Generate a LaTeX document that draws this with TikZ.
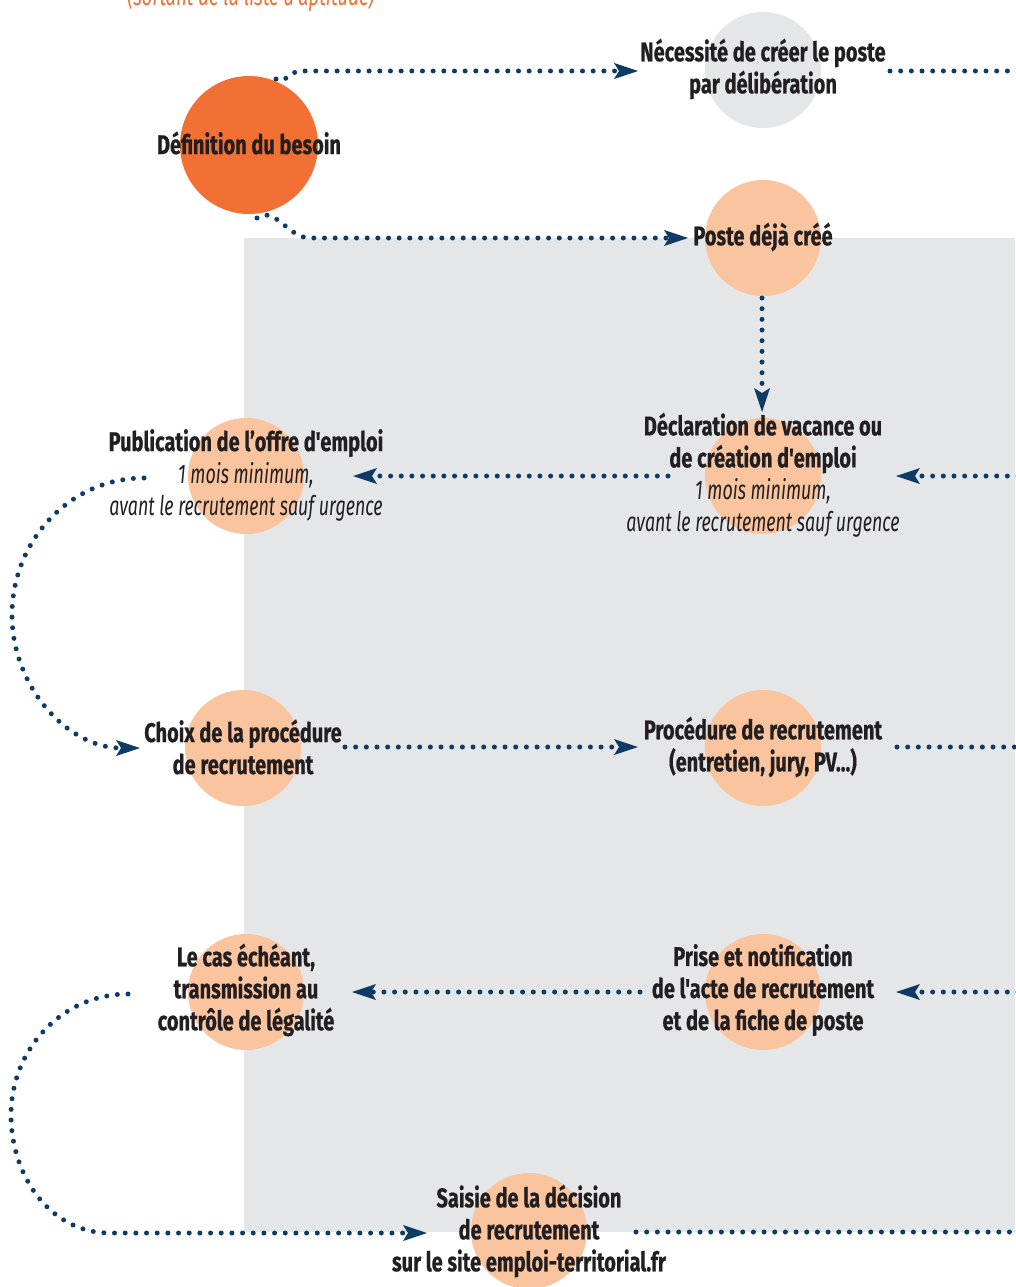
\documentclass[tikz,border=0pt]{standalone}
\usepackage{fontspec}
\defaultfontfeatures{}
\setmainfont{Fira Sans}
\newfontfamily\labfont{Fira Sans}[FakeStretch=0.74,BoldFeatures={FakeBold=0.6}]
\newfontfamily\itfont{Fira Sans}[FakeStretch=0.66]
\usetikzlibrary{arrows.meta}
\definecolor{navy}{HTML}{0D3B66}
\definecolor{txt}{HTML}{231F20}
\definecolor{orangeA}{HTML}{F37034}
\definecolor{peach}{HTML}{F9C49E}
\definecolor{lgray}{HTML}{E5E6E8}
\newcommand{\itl}[1]{{\itfont\mdseries\itshape #1}}
\begin{document}
\begin{tikzpicture}[x=1pt,y=-1pt,
  circ/.style={circle,inner sep=0pt,minimum size=116pt},
  lbl/.style={font=\labfont\bfseries\fontsize{27}{32}\selectfont,text=txt,align=center,inner sep=0pt},
  dots/.style={navy,line width=5pt,line cap=round,dash pattern=on 0pt off 10.67pt},
  arr/.style={dots,-{Stealth[length=24pt,width=16pt,inset=5pt,line width=0pt]}}
]
\useasboundingbox (0,0) rectangle (1015,1287);
\fill[white] (0,0) rectangle (1015,1287);
% grey panel
\fill[lgray] (244,238) rectangle (1015,1232);
% top cut text
\node[anchor=base,inner sep=0pt,text=orangeA,font=\itfont\itshape\fontsize{28}{32}\selectfont] (topnote) at (251,6) {(sortant de la liste d'aptitude)};
% circles
\node[circ,fill=orangeA,minimum size=138pt] (cDef) at (249,145) {};
\node[circ,fill=lgray] (cNec) at (763,70) {};
\node[circ,fill=peach] (cPos) at (763,238) {};
\node[circ,fill=peach] (cDec) at (763,476) {};
\node[circ,fill=peach] (cPub) at (246,476) {};
\node[circ,fill=peach] (cCho) at (243,748) {};
\node[circ,fill=peach] (cPro) at (763,748) {};
\node[circ,fill=peach] (cCas) at (246,992) {};
\node[circ,fill=peach] (cPri) at (763,992) {};
\node[circ,fill=peach] (cSai) at (529,1231) {};
% labels
\node[lbl] (tDef) at (249,143) {Définition du besoin};
\node[lbl] (tNec) at (763,69) {Nécessité de créer le poste\\par délibération};
\node[lbl] (tPos) at (763,237) {Poste déjà créé};
\node[lbl] (tDec) at (763,475) {Déclaration de vacance ou\\de création d'emploi\\\itl{1 mois minimum,}\\\itl{avant le recrutement sauf urgence}};
\node[lbl] (tPub) at (246,475) {Publication de l’offre d'emploi\\\itl{1 mois minimum,}\\\itl{avant le recrutement sauf urgence}};
\node[lbl] (tCho) at (243,747) {Choix de la procédure\\de recrutement};
\node[lbl] (tPro) at (763,747) {Procédure de recrutement\\(entretien, jury, PV...)};
\node[lbl] (tCas) at (246,990) {Le cas échéant,\\transmission au\\contrôle de légalité};
\node[lbl] (tPri) at (763,990) {Prise et notification\\de l'acte de recrutement\\et de la fiche de poste};
\node[lbl] (tSai) at (529,1231) {Saisie de la décision\\de recrutement\\sur le site emploi-territorial.fr};
% connector end points
\coordinate (a1) at (276,79);
\coordinate (a1e) at (638,71);
\coordinate (a2) at (890,71);
\coordinate (a2e) at (1018,71);
\coordinate (a3) at (257,218);
\coordinate (a3e) at (688,238);
\coordinate (a4) at (762,298);
\coordinate (a4e) at (762,412);
\coordinate (a5) at (1018,476);
\coordinate (a5e) at (896,476);
\coordinate (a6) at (668,476);
\coordinate (a6e) at (353,476);
\coordinate (a7) at (144,478);
\coordinate (a7m) at (12,615);
\coordinate (a7e) at (140,748);
\coordinate (a8) at (345,747);
\coordinate (a8e) at (638,747);
\coordinate (a9) at (897,747);
\coordinate (a9e) at (1018,747);
\coordinate (a10) at (1018,992);
\coordinate (a10e) at (896,992);
\coordinate (a11) at (640,992);
\coordinate (a11e) at (352,992);
\coordinate (a12) at (128,994);
\coordinate (a12m) at (11,1115);
\coordinate (a12e) at (427,1233);
\coordinate (a13) at (636,1232);
\coordinate (a13e) at (1018,1232);
% connectors
\draw[arr] (a1) to[out=-40,in=180] (300,71) -- (a1e);
\draw[dots] (a2) -- (a2e);
\draw[arr] (a3) to[out=35,in=180] (310,238) -- (a3e);
\draw[arr] (a4) -- (a4e);
\draw[arr] (a5) -- (a5e);
\draw[arr] (a6) -- (a6e);
\draw[arr] (a7) to[out=180,in=90] (a7m) to[out=-90,in=180] (a7e);
\draw[arr] (a8) -- (a8e);
\draw[dots] (a9) -- (a9e);
\draw[arr] (a10) -- (a10e);
\draw[arr] (a11) -- (a11e);
\draw[arr] (a12) to[out=180,in=90] (a12m) to[out=-90,in=180] (110,1233) -- (a12e);
\draw[dots] (a13) -- (a13e);
\end{tikzpicture}
\end{document}
